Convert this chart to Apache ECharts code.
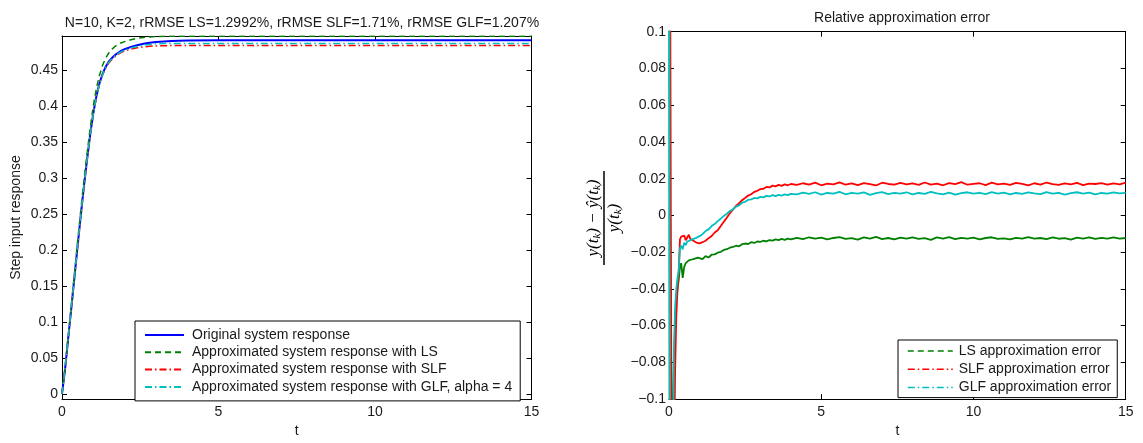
<!DOCTYPE html>
<html><head><meta charset="utf-8">
<script src="https://cdn.jsdelivr.net/npm/echarts@6/dist/echarts.min.js"></script>
<style>html,body{margin:0;padding:0;background:#fff}#c{width:1143px;height:443px}</style>
</head><body><div id="c"></div>
<script>
// ---------- Left plot data (step responses) ----------
const tStep = [0,0.1,0.2,0.3,0.4,0.5,0.6,0.7,0.8,0.9,1.0,1.1,1.2,1.3,1.4,1.5,1.6,1.7,1.8,1.9,2.0,2.2,2.4,2.6,2.8,3.0,3.5,4,5,6,7,8,9,10,11,12,13,14,15];
const yOriginal = [0,0.035,0.078,0.12,0.163,0.206,0.248,0.288,0.325,0.36,0.39,0.414,0.432,0.445,0.455,0.462,0.467,0.471,0.474,0.477,0.479,0.482,0.4845,0.4865,0.488,0.489,0.4905,0.4912,0.4915,0.4915,0.4915,0.4915,0.4915,0.4915,0.4915,0.4915,0.4915,0.4915,0.4915];
const yLS = [0,0.036,0.08,0.124,0.168,0.212,0.255,0.296,0.334,0.369,0.40,0.425,0.443,0.457,0.467,0.474,0.479,0.483,0.486,0.488,0.4895,0.492,0.494,0.4952,0.496,0.4965,0.497,0.497,0.497,0.497,0.497,0.497,0.497,0.497,0.497,0.497,0.497,0.497,0.497];
const ySLF = [0,0.035,0.078,0.12,0.163,0.206,0.248,0.288,0.325,0.36,0.389,0.413,0.431,0.444,0.453,0.46,0.465,0.469,0.472,0.4745,0.4765,0.479,0.481,0.4822,0.483,0.4835,0.484,0.484,0.484,0.484,0.484,0.484,0.484,0.484,0.484,0.484,0.484,0.484,0.484];
const yGLF = [0,0.036,0.079,0.121,0.164,0.207,0.249,0.289,0.326,0.36,0.389,0.413,0.431,0.444,0.454,0.461,0.466,0.47,0.473,0.4755,0.4775,0.4805,0.4828,0.4845,0.4855,0.4862,0.487,0.487,0.487,0.487,0.487,0.487,0.487,0.487,0.487,0.487,0.487,0.487,0.487];
const leftYTicks = [0,0.05,0.1,0.15,0.2,0.25,0.3,0.35,0.4,0.45];

// ---------- Right plot data (relative errors) ----------
const tErr = [0,0.03,0.06,0.1,0.13,0.16,0.2,0.24,0.28,0.32,0.36,0.4,0.45,0.5,0.55,0.6,0.65,0.7,0.75,0.8,0.85,0.9,0.95,1.0,
 1.1,1.2,1.3,1.4,1.5,1.6,1.7,1.8,1.9,2.0,2.1,2.2,2.3,2.4,2.5,2.6,2.7,2.8,2.9,3.0,3.1,3.2,3.3,3.4,3.5,3.6,3.7,3.8,3.9,4.0,
 4.2,4.4,4.6,4.8,5.0,5.2,5.4,5.6,5.8,6.0,6.2,6.4,6.6,6.8,7.0,7.2,7.4,7.6,7.8,8.0,8.2,8.4,8.6,8.8,9.0,9.2,9.4,9.6,9.8,10.0,
 10.2,10.4,10.6,10.8,11.0,11.2,11.4,11.6,11.8,12.0,12.2,12.4,12.6,12.8,13.0,13.2,13.4,13.6,13.8,14.0,14.2,14.4,14.6,14.8,15.0];
const eLS = [0.3,-0.3,-0.25,-0.15,-0.1,-0.078,-0.06,-0.046,-0.04,-0.035,-0.028,-0.026,-0.034,-0.028,-0.026,-0.025,-0.0245,-0.0255,-0.024,-0.0245,-0.0235,-0.024,-0.023,-0.0235,
 -0.0238,-0.0222,-0.0229,-0.0214,-0.0212,-0.0203,-0.0198,-0.0188,-0.0184,-0.0176,-0.0172,-0.0165,-0.0168,-0.0157,-0.0153,-0.0156,-0.0146,-0.015,-0.0142,-0.0144,-0.0138,-0.0141,-0.0134,-0.0137,-0.0131,-0.0135,-0.0128,-0.0133,-0.0126,-0.013,
 -0.0122,-0.0129,-0.0119,-0.0127,-0.0121,-0.0131,-0.0123,-0.0118,-0.0128,-0.0124,
 -0.0132,-0.012,-0.0126,-0.0117,-0.0129,-0.0123,-0.013,-0.0121,-0.0127,-0.0119,
 -0.0128,-0.0124,-0.0133,-0.012,-0.0126,-0.0118,-0.0129,-0.0122,-0.0127,-0.0121,
 -0.013,-0.0123,-0.0119,-0.0128,-0.0125,-0.0131,-0.0122,-0.0127,-0.0118,-0.0126,
 -0.0123,-0.0129,-0.012,-0.0127,-0.0124,-0.0132,-0.0121,-0.0126,-0.0119,-0.0128,
 -0.0122,-0.0127,-0.012,-0.0126,-0.0123];
const eSLF = [0.3,0.2,0.0,-0.2,-0.25,-0.15,-0.085,-0.055,-0.04,-0.03,-0.013,-0.0115,-0.0125,-0.011,-0.0135,-0.012,-0.0105,-0.0128,-0.0122,-0.0138,-0.0131,-0.0148,-0.0145,-0.0152,
 -0.0146,-0.0138,-0.0124,-0.0112,-0.0093,-0.0081,-0.0058,-0.0035,-0.0012,0.0012,0.0031,0.0052,0.0066,0.0083,0.0095,0.0108,0.0115,0.0128,0.0134,0.0143,0.0145,0.0155,0.0152,0.0162,0.0158,0.0166,0.0161,0.0169,0.0164,0.0171,
 0.0166,0.0175,0.0168,0.0178,0.0164,0.0173,0.0169,0.018,0.0167,0.0174,
 0.0165,0.0176,0.017,0.0163,0.0178,0.0171,0.0167,0.0177,0.0169,0.0174,
 0.0166,0.0179,0.0168,0.0173,0.0164,0.0176,0.017,0.0181,0.0167,0.0172,
 0.0175,0.0165,0.0178,0.0169,0.0173,0.0166,0.0177,0.0171,0.0164,0.0175,
 0.0168,0.0179,0.017,0.0166,0.0174,0.0169,0.0177,0.0165,0.0173,0.0171,
 0.0176,0.0167,0.0174,0.0169,0.0178];
const eGLF = [0.3,-0.2,-0.3,-0.25,-0.15,-0.075,-0.05,-0.04,-0.034,-0.03,-0.018,-0.0165,-0.0185,-0.0148,-0.0162,-0.0142,-0.0151,-0.0136,-0.0145,-0.0128,-0.0134,-0.0122,-0.0126,-0.0113,
 -0.0102,-0.0085,-0.0076,-0.0058,-0.0047,-0.0031,-0.0018,-0.0003,0.0009,0.0024,0.0033,0.0048,0.0055,0.0069,0.0074,0.0085,0.0087,0.0095,0.0093,0.0101,0.0098,0.0106,0.0103,0.011,0.0105,0.0112,0.0108,0.0115,0.011,0.0117,
 0.0114,0.0124,0.0117,0.0126,0.0113,0.0122,0.0118,0.0128,0.0115,0.0123,
 0.0119,0.0125,0.0112,0.0121,0.0127,0.0116,0.0123,0.0118,0.0126,0.0114,
 0.0122,0.0117,0.0128,0.012,0.0115,0.0124,0.0113,0.0121,0.0126,0.0118,
 0.0123,0.0116,0.0127,0.0119,0.0124,0.0114,0.0122,0.0117,0.0125,0.012,
 0.0116,0.0127,0.0118,0.0123,0.0113,0.0121,0.0126,0.0119,0.0124,0.0115,
 0.0122,0.0118,0.0125,0.012,0.0123];

const leftTitle = 'N=10, K=2, rRMSE LS=1.2992%, rRMSE SLF=1.71%, rRMSE GLF=1.207%';
const rightTitle = 'Relative approximation error';
const namesLeft = ['Original system response','Approximated system response with LS','Approximated system response with SLF','Approximated system response with GLF, alpha = 4'];
const namesRight = ['LS approximation error','SLF approximation error','GLF approximation error'];

// ---------- styling ----------
const FONT = 'Liberation Sans, Arial, Helvetica, sans-serif';
const TXT = '#1a1a1a';
const C_BLUE = '#0000ff', C_GREEN = '#008000', C_RED = '#ff0000', C_CYAN = '#00bfbf';
const DASH = [6,4], DASHDOT = [7,3,1.5,3];
const zip = (xs, ys) => xs.map((x,i)=>[x, ys[i]]);
const fmt = v => { const r = Math.round(v*1000)/1000; return (r===0?'0':String(r)).replace('-', '\u2212'); };

const gridL = {left:62, top:36, width:469.5, height:370};
const gridR = {left:669, top:31.7, width:456.7, height:373.3};

function xAx(grid, pos, main) {
  return {type:'value', gridIndex:grid, position:pos, min:0, max:15, interval:5,
    axisLine:{show:true, onZero:false, lineStyle:{color:'#000', width:1}},
    axisTick:{show:true, inside:true, length:5, lineStyle:{color:'#000'}},
    axisLabel:{show:main, margin:6, color:TXT, fontSize:14, fontFamily:FONT},
    splitLine:{show:false},
    name: main ? 't' : '', nameLocation:'middle', nameGap:21,
    nameTextStyle:{color:TXT, fontSize:14, fontFamily:FONT}};
}
function yAxLeft(pos, main) {
  return {type:'value', gridIndex:0, position:pos, min:-0.0073, max:0.4973,
    axisLine:{show:true, onZero:false, lineStyle:{color:'#000', width:1}},
    axisTick:{show:true, inside:true, length:5, customValues:leftYTicks, lineStyle:{color:'#000'}},
    axisLabel:{show:main, margin:4, customValues:leftYTicks, formatter:fmt, color:TXT, fontSize:14, fontFamily:FONT},
    splitLine:{show:false},
    name: main ? 'Step input response' : '', nameLocation:'middle', nameGap:39,
    nameTextStyle:{color:TXT, fontSize:14, fontFamily:FONT}};
}
function yAxRight(pos, main) {
  return {type:'value', gridIndex:1, position:pos, min:-0.1, max:0.1, interval:0.02,
    axisLine:{show:true, onZero:false, lineStyle:{color:'#000', width:1}},
    axisTick:{show:true, inside:true, length:5, lineStyle:{color:'#000'}},
    axisLabel:{show:main, margin:3, formatter:fmt, color:TXT, fontSize:14, fontFamily:FONT},
    splitLine:{show:false}};
}

const lineSeries = (name, xi, yi, data, color, type, width) => ({
  name, type:'line', xAxisIndex:xi, yAxisIndex:yi, data, symbol:'none', showSymbol:false,
  clip:true, animation:false, lineStyle:{color, width, type}, itemStyle:{color}
});

const chart = echarts.init(document.getElementById('c'), null, {renderer:'canvas'});
chart.setOption({
  backgroundColor:'#fff',
  animation:false,
  title:[
    {text:leftTitle, left:297, top:11, textAlign:'center', textStyle:{fontSize:14, fontWeight:'normal', color:TXT, fontFamily:FONT}},
    {text:rightTitle, left:897, top:6, textAlign:'center', textStyle:{fontSize:14, fontWeight:'normal', color:TXT, fontFamily:FONT}}
  ],
  grid:[gridL, gridR],
  xAxis:[xAx(0,'bottom',true), xAx(0,'top',false), xAx(1,'bottom',true), xAx(1,'top',false)],
  yAxis:[yAxLeft('left',true), yAxLeft('right',false), yAxRight('left',true), yAxRight('right',false)],
  legend:[
    {orient:'vertical', left:135, top:321, itemWidth:39, itemHeight:10, itemGap:3.3,
     padding:[7,8,7,9], backgroundColor:'#fff', borderColor:'#000', borderWidth:1, borderRadius:0,
     itemStyle:{opacity:0},
     textStyle:{fontSize:14, fontFamily:FONT, color:TXT, lineHeight:14, padding:[0,0,0,3]},
     data:namesLeft},
    {orient:'vertical', left:898, top:340, itemWidth:45, itemHeight:10, itemGap:4.3,
     padding:[4,6,3,9], backgroundColor:'#fff', borderColor:'#000', borderWidth:1, borderRadius:0,
     itemStyle:{opacity:0},
     textStyle:{fontSize:14, fontFamily:FONT, color:TXT, lineHeight:14, padding:[0,0,0,1]},
     data:[
       {name:namesRight[0], lineStyle:{type:DASH, color:C_GREEN, width:1.5}},
       {name:namesRight[1], lineStyle:{type:DASHDOT, color:C_RED, width:1.5}},
       {name:namesRight[2], lineStyle:{type:DASHDOT, color:C_CYAN, width:1.5}}
     ]}
  ],
  series:[
    lineSeries(namesLeft[0], 0, 0, zip(tStep, yOriginal), C_BLUE, 'solid', 2),
    lineSeries(namesLeft[1], 0, 0, zip(tStep, yLS), C_GREEN, DASH, 1.5),
    lineSeries(namesLeft[2], 0, 0, zip(tStep, ySLF), C_RED, DASHDOT, 1.5),
    lineSeries(namesLeft[3], 0, 0, zip(tStep, yGLF), C_CYAN, DASHDOT, 1.5),
    lineSeries(namesRight[0], 2, 2, zip(tErr, eLS), C_GREEN, 'solid', 1.8),
    lineSeries(namesRight[1], 2, 2, zip(tErr, eSLF), C_RED, 'solid', 1.8),
    lineSeries(namesRight[2], 2, 2, zip(tErr, eGLF), C_CYAN, 'solid', 1.8)
  ],
  graphic:[{
    type:'group', x:604, y:218, rotation:Math.PI/2,
    children:[
      {type:'text', x:0, y:-10, style:{text:'y(t{s|k}) \u2212 \u0177(t{s|k})', align:'center', verticalAlign:'middle',
        font:'italic 17px "Liberation Serif", "DejaVu Serif", serif', fill:'#000',
        rich:{s:{fontSize:11, fontStyle:'italic', fontFamily:'Liberation Serif', padding:[7,0,0,0]}}}},
      {type:'line', shape:{x1:-47, y1:0, x2:47, y2:0}, style:{stroke:'#000', lineWidth:1.5}},
      {type:'text', x:0, y:11, style:{text:'y(t{s|k})', align:'center', verticalAlign:'middle',
        font:'italic 17px "Liberation Serif", "DejaVu Serif", serif', fill:'#000',
        rich:{s:{fontSize:11, fontStyle:'italic', fontFamily:'Liberation Serif', padding:[7,0,0,0]}}}}
    ]
  }]
});
</script></body></html>
